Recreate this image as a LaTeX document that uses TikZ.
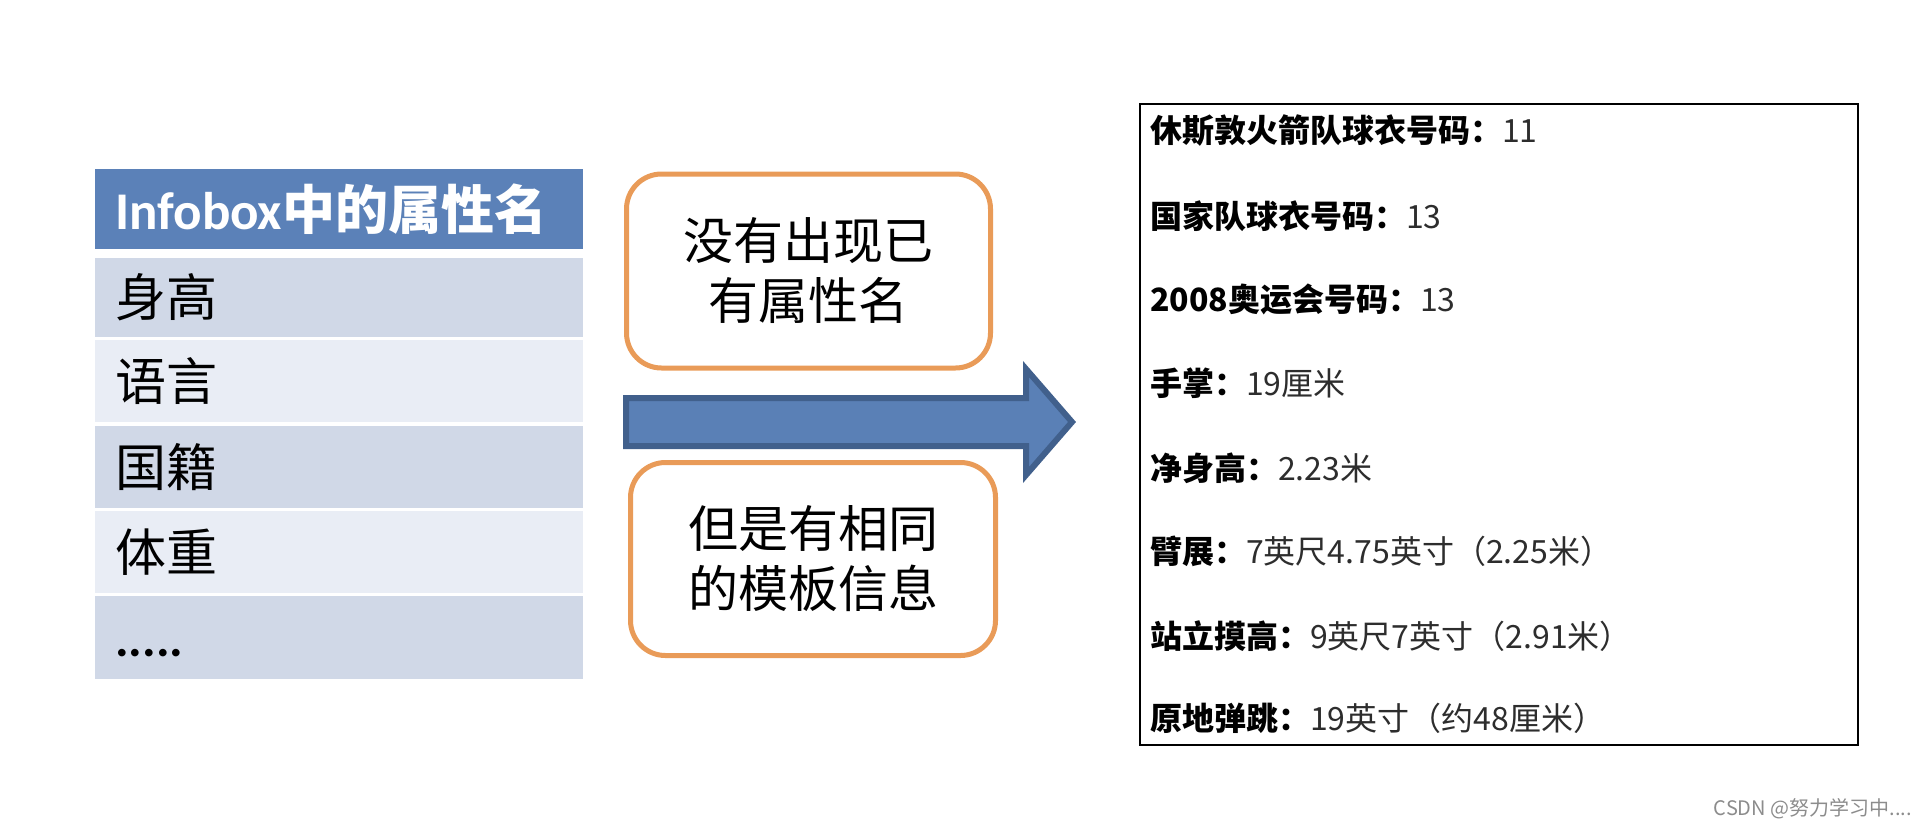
\documentclass[tikz,border=0pt]{standalone}
\usepackage{fontspec}
\newfontfamily\cjk{Noto Sans CJK SC}
\newfontfamily\carlito{Carlito}
\definecolor{HeadBlue}{RGB}{91,129,184}
\definecolor{RowDark}{RGB}{208,216,231}
\definecolor{RowLight}{RGB}{233,237,245}
\definecolor{BoxOrange}{RGB}{233,155,88}
\definecolor{ArrowFill}{RGB}{90,128,182}
\definecolor{ArrowDraw}{RGB}{65,96,140}
\definecolor{ValGray}{RGB}{45,45,45}
\begin{document}
\begin{tikzpicture}[x=1pt,y=-1pt,
  cell/.style={rectangle, anchor=north west, text width=448pt, inner xsep=20pt, inner ysep=0pt, align=left, font=\cjk\fontsize{51}{56}\selectfont, text=black},
  dark/.style={cell, fill=RowDark},
  light/.style={cell, fill=RowLight},
  ornbox/.style={rectangle, draw=BoxOrange, line width=5pt, rounded corners=35pt, fill=white, align=center, font=\cjk\fontsize{50}{60}\selectfont},
  prop/.style={anchor=west, inner sep=0pt, font=\cjk\fontsize{32}{36}\selectfont},
]
\useasboundingbox (0,0) rectangle (1926,828);
% table
\node[cell, fill=HeadBlue, text=white, minimum height=80pt, font=\cjk\fontsize{53}{58}\selectfont] (hdr) at (95,169) {{\carlito\bfseries Infobox}{\bfseries 中的属性名}};
\node[dark,  minimum height=79pt] (r1) at (95,257.5) {身高};
\node[light, minimum height=82pt] (r2) at (95,340) {语言};
\node[dark,  minimum height=82pt] (r3) at (95,425.5) {国籍};
\node[light, minimum height=82pt] (r4) at (95,510.5) {体重};
\node[dark,  minimum height=82.5pt] (r5) at (95,596) {\vphantom{身}{\carlito\bfseries .....}};
% orange boxes
\node[ornbox, minimum width=364pt, minimum height=194pt] (b1) at (808.5,271) {没有出现已\\有属性名};
\node[ornbox, minimum width=365pt, minimum height=193pt] (b2) at (813,559) {但是有相同\\的模板信息};
% block arrow
\draw[fill=ArrowFill, draw=ArrowDraw, line width=6pt, line join=miter]
  (626,398) -- (1026,398) -- (1026,369) -- (1072,422) -- (1026,475) -- (1026,446) -- (626,446) -- cycle;
% right box
\draw[black, line width=2pt] (1140,104) rectangle (1858,745);
\node[prop] (p1) at (1150,131) {\textbf{休斯敦火箭队球衣号码：}\textcolor{ValGray}{11}};
\node[prop] (p2) at (1150,216) {\textbf{国家队球衣号码：}\textcolor{ValGray}{13}};
\node[prop] (p3) at (1150,299) {\textbf{2008奥运会号码：}\textcolor{ValGray}{13}};
\node[prop] (p4) at (1150,383) {\textbf{手掌：}\textcolor{ValGray}{19厘米}};
\node[prop] (p5) at (1150,468) {\textbf{净身高：}\textcolor{ValGray}{2.23米}};
\node[prop] (p6) at (1150,551) {\textbf{臂展：}\textcolor{ValGray}{7英尺4.75英寸（2.25米）}};
\node[prop] (p7) at (1150,636) {\textbf{站立摸高：}\textcolor{ValGray}{9英尺7英寸（2.91米）}};
\node[prop] (p8) at (1150,718) {\textbf{原地弹跳：}\textcolor{ValGray}{19英寸（约48厘米）}};
% watermark
\node[anchor=east, inner sep=0pt, text=black!45, font=\cjk\fontsize{20}{22}\selectfont] (wm) at (1912,809) {CSDN @努力学习中....};
\end{tikzpicture}
\end{document}
